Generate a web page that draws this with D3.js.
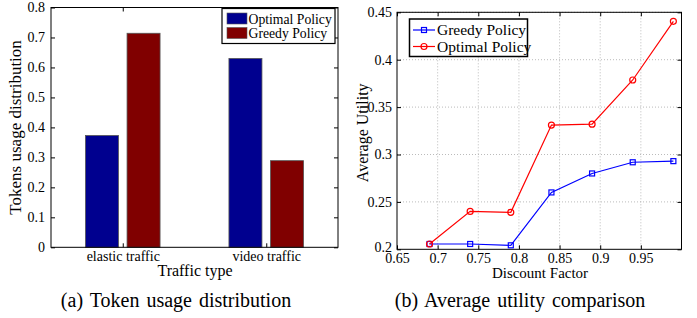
<!DOCTYPE html>
<html>
<head>
<meta charset="utf-8">
<script src="https://cdn.jsdelivr.net/npm/d3@7"></script>
<style>
  body { margin: 0; background: #fff; }
  svg { display: block; font-family: "Liberation Serif", "DejaVu Serif", serif; }
</style>
</head>
<body>
<svg id="chart" width="697" height="318"></svg>
<script>
// (a) token usage
const trafficTypes = ["elastic traffic", "video traffic"];
const barSeries = ["Optimal Policy", "Greedy Policy"];
const optimalUsage = [0.373, 0.63];
const greedyUsage = [0.714, 0.289];
const usageTicks = [0, 0.1, 0.2, 0.3, 0.4, 0.5, 0.6, 0.7, 0.8];

// (b) average utility
const discount = [0.69, 0.74, 0.79, 0.84, 0.89, 0.94, 0.99];
const greedyUtility = [0.2056, 0.2056, 0.2042, 0.260, 0.280, 0.2918, 0.293];
const optimalUtility = [0.2056, 0.240, 0.239, 0.331, 0.332, 0.3786, 0.4405];
const discountTicks = [0.65, 0.7, 0.75, 0.8, 0.85, 0.9, 0.95];
const utilityTicks = [0.2, 0.25, 0.3, 0.35, 0.4, 0.45];

const svg = d3.select("#chart");
const fmt = d => d === 0 ? "0" : String(+d.toFixed(2));

function styleAxes(list, size) {
    list.forEach(a => {
        a.attr("font-family", null);
        a.select(".domain").remove();
        a.selectAll("line").attr("stroke", "#000");
        a.selectAll("text").attr("fill", "#000").style("font-size", size)
            .style("font-family", "'Liberation Serif', serif");
    });
}

// ---------- chart (a) ----------
(function () {
    const L = 51, R = 338, T = 7.5, B = 247.3;
    const g = svg.append("g");

    const x = d3.scaleLinear().domain([0.5, 2.5]).range([L, R]);
    const y = d3.scaleLinear().domain([0, 0.8]).range([B, T]);
    const bw = 0.23, off = 0.145;

    const rows = trafficTypes.map((t, i) => ({ i: i + 1, vals: [optimalUsage[i], greedyUsage[i]] }));
    const colors = ["#00008f", "#800000"];

    rows.forEach(r => {
        r.vals.forEach((v, k) => {
            const cx = r.i + (k === 0 ? -off : off);
            g.append("rect")
                .attr("x", x(cx - bw / 2))
                .attr("width", x(cx + bw / 2) - x(cx - bw / 2))
                .attr("y", y(v))
                .attr("height", y(0) - y(v))
                .attr("fill", colors[k])
                .attr("stroke", "#555")
                .attr("stroke-width", 0.8);
        });
    });

    // box
    g.append("rect").attr("x", L).attr("y", T).attr("width", R - L).attr("height", B - T)
        .attr("fill", "none").attr("stroke", "#000").attr("stroke-width", 1);

    // ticks inward on every side
    const yl = g.append("g").attr("transform", `translate(${L},0)`)
        .call(d3.axisLeft(y).tickValues(usageTicks).tickSize(-4).tickPadding(6).tickFormat(fmt));
    const yr = g.append("g").attr("transform", `translate(${R},0)`)
        .call(d3.axisRight(y).tickValues(usageTicks).tickSize(-4).tickFormat(""));
    const xb = g.append("g").attr("transform", `translate(0,${B})`)
        .call(d3.axisBottom(x).tickValues([1, 2]).tickSize(-4).tickPadding(3.5)
            .tickFormat((d, i) => trafficTypes[i]));
    const xt = g.append("g").attr("transform", `translate(0,${T})`)
        .call(d3.axisTop(x).tickValues([1, 2]).tickSize(-4).tickFormat(""));
    styleAxes([yl, yr, xb, xt], "14px");

    g.append("text").attr("transform", `translate(21,${(T + B) / 2}) rotate(-90)`)
        .attr("text-anchor", "middle").style("font-size", "17px").text("Tokens usage distribution");
    g.append("text").attr("x", 195).attr("y", 276).attr("text-anchor", "middle")
        .style("font-size", "16px").text("Traffic type");
    g.append("text").attr("x", 176).attr("y", 307).attr("text-anchor", "middle")
        .style("font-size", "20px").style("word-spacing", "2px").text("(a) Token usage distribution");

    // legend
    const lg = g.append("g");
    lg.append("rect").attr("x", 222).attr("y", 8.5).attr("width", 113).attr("height", 35)
        .attr("fill", "#fff").attr("stroke", "#000").attr("stroke-width", 1.2);
    barSeries.forEach((s, i) => {
        lg.append("rect").attr("x", 227).attr("y", 13 + i * 14.5).attr("width", 20).attr("height", 11)
            .attr("fill", colors[i]).attr("stroke", "#555").attr("stroke-width", 0.6);
        lg.append("text").attr("x", 248.5).attr("y", 23.5 + i * 14.5)
            .style("font-size", "13.7px").text(s);
    });
})();

// ---------- chart (b) ----------
(function () {
    const L = 397, R = 681.5, T = 12.3, B = 249.3;
    const g = svg.append("g");

    const x = d3.scaleLinear().domain([0.65, 1.0]).range([L, R]);
    const y = d3.scaleLinear().domain([0.2, 0.45]).range([B, T]);

    // dotted grid
    const grid = g.append("g").attr("stroke", "#aaa").attr("stroke-width", 0.8)
        .attr("stroke-dasharray", "1,2");
    discountTicks.slice(1).concat([1.0]).forEach(t => {
        grid.append("line").attr("x1", x(t)).attr("x2", x(t)).attr("y1", T).attr("y2", B);
    });
    utilityTicks.slice(1).forEach(t => {
        grid.append("line").attr("x1", L).attr("x2", R).attr("y1", y(t)).attr("y2", y(t));
    });

    const yl = g.append("g").attr("transform", `translate(${L},0)`)
        .call(d3.axisLeft(y).tickValues(utilityTicks).tickSize(-4).tickPadding(5).tickFormat(fmt));
    const yr = g.append("g").attr("transform", `translate(${R},0)`)
        .call(d3.axisRight(y).tickValues(utilityTicks).tickSize(-4).tickFormat(""));
    const xb = g.append("g").attr("transform", `translate(0,${B})`)
        .call(d3.axisBottom(x).tickValues(discountTicks).tickSize(-4).tickPadding(4).tickFormat(fmt));
    const xt = g.append("g").attr("transform", `translate(0,${T})`)
        .call(d3.axisTop(x).tickValues(discountTicks).tickSize(-4).tickFormat(""));
    styleAxes([yl, yr, xb, xt], "14px");
    // the corner label sits just above 0.65, as in the original
    yl.selectAll(".tick text").filter(d => d === 0.2).attr("dy", "0.15em");

    g.append("rect").attr("x", L).attr("y", T).attr("width", R - L).attr("height", B - T)
        .attr("fill", "none").attr("stroke", "#000").attr("stroke-width", 1);

    const line = d3.line().x(d => x(d[0])).y(d => y(d[1]));
    const series = [
        { name: "Greedy Policy", vals: greedyUtility, color: "#0000ff", marker: "square" },
        { name: "Optimal Policy", vals: optimalUtility, color: "#ff0000", marker: "circle" }
    ];
    function drawMarker(sel, s, cx, cy) {
        if (s.marker === "square") {
            sel.append("rect").attr("x", cx - 2.5).attr("y", cy - 2.5).attr("width", 5).attr("height", 5)
                .attr("fill", "none").attr("stroke", s.color).attr("stroke-width", 1.2);
        } else {
            sel.append("circle").attr("cx", cx).attr("cy", cy).attr("r", 3)
                .attr("fill", "none").attr("stroke", s.color).attr("stroke-width", 1.2);
        }
    }
    series.forEach(s => {
        const pts = discount.map((d, i) => [d, s.vals[i]]);
        g.append("path").datum(pts).attr("d", line).attr("fill", "none")
            .attr("stroke", s.color).attr("stroke-width", 1.2);
        pts.forEach(p => drawMarker(g, s, x(p[0]), y(p[1])));
    });

    g.append("text").attr("transform", `translate(368,${(T + B) / 2 + 2}) rotate(-90)`)
        .attr("text-anchor", "middle").style("font-size", "16px").text("Average Utility");
    g.append("text").attr("x", 540).attr("y", 278).attr("text-anchor", "middle")
        .style("font-size", "15px").text("Discount Factor");
    g.append("text").attr("x", 520).attr("y", 307).attr("text-anchor", "middle")
        .style("font-size", "20px").style("word-spacing", "2px").text("(b) Average utility comparison");

    // legend
    const lg = g.append("g");
    lg.append("rect").attr("x", 409.5).attr("y", 19).attr("width", 118).attr("height", 37.5)
        .attr("fill", "#fff").attr("stroke", "#000").attr("stroke-width", 1.5);
    series.forEach((s, i) => {
        const yy = 30 + i * 16.5;
        lg.append("line").attr("x1", 413).attr("x2", 435).attr("y1", yy).attr("y2", yy)
            .attr("stroke", s.color).attr("stroke-width", 1.2);
        drawMarker(lg, s, 424, yy);
        lg.append("text").attr("x", 437).attr("y", yy + 5).style("font-size", "15.5px").text(s.name);
    });
})();
</script>
</body>
</html>
